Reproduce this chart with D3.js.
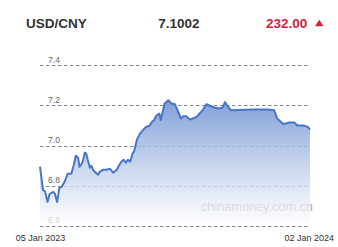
<!DOCTYPE html>
<html><head><meta charset="utf-8">
<script src="https://cdn.jsdelivr.net/npm/d3@7"></script>
<style>html,body{margin:0;padding:0;background:#fff;}svg{display:block;font-family:"Liberation Sans",Arial,sans-serif;}</style>
</head><body>
<script>
const pair = "USD/CNY";
const lastRate = "7.1002";
const changeText = "232.00";
const startLabel = "05 Jan 2023";
const endLabel = "02 Jan 2024";
const yTicks = [6.6, 6.8, 7.0, 7.2, 7.4];
const dates = ["2023-01-05","2023-01-09","2023-01-12","2023-01-15","2023-01-18","2023-01-23","2023-01-25","2023-01-28","2023-01-31","2023-02-03","2023-02-07","2023-02-11","2023-02-16","2023-02-19","2023-02-22","2023-02-25","2023-02-27","2023-03-02","2023-03-04","2023-03-06","2023-03-08","2023-03-10","2023-03-13","2023-03-15","2023-03-17","2023-03-22","2023-03-24","2023-03-26","2023-03-31","2023-04-04","2023-04-09","2023-04-13","2023-04-18","2023-04-20","2023-04-24","2023-04-27","2023-04-30","2023-05-03","2023-05-06","2023-05-09","2023-05-11","2023-05-15","2023-05-19","2023-05-23","2023-05-27","2023-06-01","2023-06-04","2023-06-07","2023-06-10","2023-06-14","2023-06-16","2023-06-19","2023-06-21","2023-06-26","2023-06-30","2023-07-05","2023-07-09","2023-07-13","2023-07-16","2023-07-20","2023-07-25","2023-07-29","2023-08-03","2023-08-07","2023-08-11","2023-08-16","2023-08-20","2023-08-27","2023-09-02","2023-09-07","2023-09-10","2023-09-13","2023-09-18","2023-09-29","2023-10-19","2023-11-06","2023-11-15","2023-11-19","2023-11-24","2023-11-28","2023-12-05","2023-12-12","2023-12-16","2023-12-25","2023-12-30","2024-01-02"];
const rates = [6.895,6.78,6.77,6.72,6.76,6.77,6.76,6.72,6.79,6.795,6.82,6.86,6.86,6.90,6.95,6.94,6.895,6.91,6.93,6.965,6.96,6.93,6.89,6.90,6.88,6.86,6.855,6.87,6.88,6.88,6.885,6.865,6.88,6.895,6.92,6.93,6.915,6.93,6.92,6.96,6.97,7.03,7.06,7.077,7.093,7.10,7.118,7.127,7.15,7.16,7.127,7.176,7.21,7.226,7.21,7.206,7.17,7.135,7.146,7.146,7.13,7.135,7.143,7.16,7.176,7.206,7.20,7.19,7.185,7.19,7.217,7.20,7.176,7.178,7.18,7.18,7.176,7.135,7.118,7.107,7.115,7.115,7.10,7.10,7.093,7.08];

const W = 338, H = 247;
const parse = d3.timeParse("%Y-%m-%d");
const data = dates.map((d,i)=>({date:parse(d), v:rates[i]}));

const svg = d3.select("body").append("svg").attr("width",W).attr("height",H);

const x = d3.scaleTime().domain([parse(dates[0]), parse(dates[dates.length-1])]).range([40,310]);
const y = d3.scaleLinear().domain([6.6,7.4]).range([226,65.3]);

// header
svg.append("text").attr("x",26).attr("y",28).attr("font-size",13.5).attr("font-weight","bold").attr("fill","#333").text(pair);
svg.append("text").attr("x",158.3).attr("y",28).attr("font-size",13.5).attr("font-weight","bold").attr("fill","#333").text(lastRate);
svg.append("text").attr("x",266).attr("y",28).attr("font-size",13.5).attr("font-weight","bold").attr("fill","#d4213d").text(changeText);
svg.append("path").attr("d","M315,26.3L323.5,26.3L319.25,19.8Z").attr("fill","#d4213d");

// y tick labels (under the area)
svg.append("g").selectAll("text").data(yTicks).join("text")
  .attr("x",48).attr("y",d=>y(d)-2.6).attr("font-size",8.6).attr("fill","#666").text(d=>d.toFixed(1));

// watermark
svg.append("text").attr("x",201).attr("y",210.5).attr("font-size",12.7).attr("fill","#a8a8a8").text("chinamoney.com.cn");

// grid
svg.append("g").selectAll("line").data(yTicks).join("line")
  .attr("x1",40).attr("x2",310).attr("y1",d=>Math.round(y(d))+0.5).attr("y2",d=>Math.round(y(d))+0.5)
  .attr("stroke","#8a8a8a").attr("stroke-width",1).attr("stroke-dasharray","3.5,2.5");

// gradient
const defs = svg.append("defs");
const g = defs.append("linearGradient").attr("id","fillg").attr("gradientUnits","userSpaceOnUse")
  .attr("x1",0).attr("x2",0).attr("y1",y(7.23)).attr("y2",y(6.6));
g.append("stop").attr("offset","0%").attr("stop-color","#6f92d3").attr("stop-opacity",0.88);
g.append("stop").attr("offset","100%").attr("stop-color","#ffffff").attr("stop-opacity",0.72);

const area = d3.area().x(d=>x(d.date)).y0(y(6.6)-0.5).y1(d=>y(d.v)).curve(d3.curveLinear);
svg.append("path").datum(data).attr("d",area).attr("fill","url(#fillg)");

const line = d3.line().x(d=>x(d.date)).y(d=>y(d.v));
svg.append("path").datum(data).attr("d",line).attr("fill","none").attr("stroke","#4a75c6").attr("stroke-width",2).attr("stroke-linejoin","round");

// x labels
svg.append("text").attr("x",15.7).attr("y",241).attr("font-size",9).attr("fill","#333").text(startLabel);
svg.append("text").attr("x",334).attr("y",241).attr("text-anchor","end").attr("font-size",9).attr("fill","#333").text(endLabel);
</script>
</body></html>
